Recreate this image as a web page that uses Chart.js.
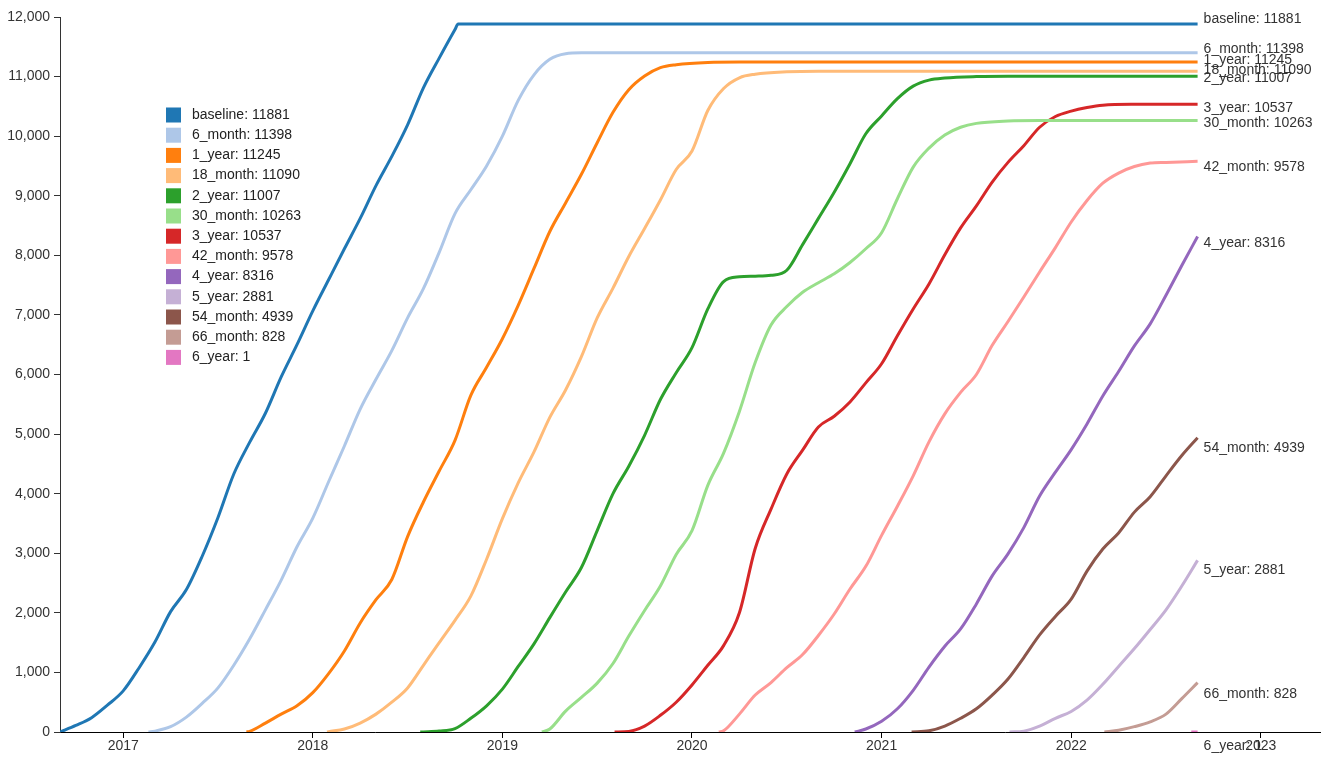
<!DOCTYPE html>
<html>
<head>
<meta charset="utf-8">
<script src="https://cdn.jsdelivr.net/npm/chart.js@4.4.1/dist/chart.umd.min.js"></script>
<style>
  html, body { margin: 0; padding: 0; background: #fff; }
  #wrap { width: 1324px; height: 759px; }
</style>
</head>
<body>
<div id="wrap"><canvas id="c" width="1324" height="759"></canvas></div>
<script>
// ---- data (x = months since Sep 2016, y = cumulative count) ----
const seriesNames = ['baseline','6_month','1_year','18_month','2_year','30_month','3_year','42_month','4_year','5_year','54_month','66_month','6_year'];
const finalCounts = [11881, 11398, 11245, 11090, 11007, 10263, 10537, 9578, 8316, 2881, 4939, 828, 1];
const yearTicks = [2017, 2018, 2019, 2020, 2021, 2022, 2023];
const yTicks = [0,1000,2000,3000,4000,5000,6000,7000,8000,9000,10000,11000,12000];

const baseline = [[0,0],[1,110],[2,240],[3,450],[4,690],[5,1075],[6,1505],[7,2020],[8,2390],[9,2950],[10,3600],[11,4330],[12,4860],[13,5350],[14,5960],[15,6500],[16,7067],[17,7590],[18,8110],[19,8620],[20,9170],[21,9660],[22,10190],[23,10810],[24,11310],[25,11790],[25.2,11881],[72,11881]];
const month6 = [[5.6,0],[6,15],[7,90],[8,250],[9,480],[10,740],[11,1120],[12,1560],[13,2050],[14,2550],[15,3110],[16,3590],[17,4200],[18,4800],[19,5420],[20,5920],[21,6400],[22,6950],[23,7440],[24,8050],[25,8700],[26,9100],[27,9500],[28,10000],[29,10600],[30,11030],[31,11290],[32,11385],[33,11398],[72,11398]];
const year1 = [[11.8,0],[12,10],[13,150],[14,300],[15,440],[16,660],[17,980],[18,1360],[19,1830],[20,2220],[21,2560],[22,3280],[23,3860],[24,4380],[25,4895],[26,5650],[27,6120],[28,6600],[29,7160],[30,7780],[31,8400],[32,8880],[33,9360],[34,9890],[35,10400],[36,10780],[37,11010],[38,11150],[39,11200],[41,11238],[43,11245],[72,11245]];
const month18 = [[16.9,0],[17,5],[18,50],[19,150],[20,300],[21,500],[22,740],[23,1120],[24,1500],[25,1874],[26,2280],[27,2900],[28,3580],[29,4180],[30,4700],[31,5280],[32,5740],[33,6300],[34,6950],[35,7450],[36,7980],[37,8450],[38,8930],[39,9440],[40,9750],[41,10430],[42,10800],[43,10980],[44,11040],[46,11080],[48,11090],[72,11090]];
const year2 = [[22.8,0],[23,2],[24,15],[25,57],[26,230],[27,440],[28,720],[29,1100],[30,1480],[31,1920],[32,2350],[33,2760],[34,3380],[35,4000],[36,4460],[37,4980],[38,5580],[39,6030],[40,6450],[41,7100],[42,7560],[43,7640],[44,7650],[45,7665],[46,7750],[47,8180],[48,8620],[49,9060],[50,9538],[51,10040],[52,10340],[53,10630],[54,10840],[55,10940],[56,10975],[58,11000],[60,11007],[72,11007]];
const month30 = [[30.5,0],[31,50],[32,350],[33,580],[34,820],[35,1150],[36,1610],[37,2040],[38,2450],[39,2980],[40,3380],[41,4140],[42,4680],[43,5380],[44,6200],[45,6830],[46,7140],[47,7380],[48,7540],[49,7690],[50,7880],[51,8110],[52,8380],[53,8950],[54,9480],[55,9800],[56,10020],[57,10150],[58,10215],[60,10255],[62,10263],[72,10263]];
const year3 = [[35.1,0],[36,10],[37,100],[38,280],[39,500],[40,790],[41,1120],[42,1450],[43,2000],[44,3080],[45,3740],[46,4330],[47,4730],[48,5120],[49,5300],[50,5540],[51,5860],[52,6180],[53,6650],[54,7100],[55,7520],[56,8010],[57,8460],[58,8830],[59,9230],[60,9560],[61,9840],[62,10150],[63,10330],[64,10420],[65,10480],[66,10520],[68,10535],[72,10537]];
const month42 = [[41.7,0],[42,20],[43,300],[44,620],[45,830],[46,1080],[47,1300],[48,1620],[49,1980],[50,2400],[51,2780],[52,3300],[53,3790],[54,4300],[55,4870],[56,5340],[57,5700],[58,6000],[59,6490],[60,6890],[61,7300],[62,7720],[63,8130],[64,8560],[65,8920],[66,9210],[67,9380],[68,9490],[69,9548],[70,9560],[72,9578]];
const year4 = [[50.3,0],[51,50],[52,180],[53,390],[54,700],[55,1090],[56,1440],[57,1730],[58,2150],[59,2620],[60,2990],[61,3430],[62,3960],[63,4360],[64,4740],[65,5170],[66,5640],[67,6050],[68,6480],[69,6850],[70,7330],[71,7830],[72,8316]];
const year5 = [[60.1,0],[61,15],[62,100],[63,230],[64,345],[65,535],[66,800],[67,1100],[68,1400],[69,1720],[70,2050],[71,2450],[72,2881]];
const month54 = [[53.9,0],[55,20],[56,100],[57,230],[58,390],[59,620],[60,890],[61,1250],[62,1630],[63,1940],[64,2230],[65,2700],[66,3070],[67,3340],[68,3690],[69,3950],[70,4300],[71,4640],[72,4939]];
const month66 = [[66.1,0],[67,30],[68,90],[69,170],[70,300],[71,560],[72,828]];
const year6 = [[71.6,0],[72,1]];

const seriesData = [baseline, month6, year1, month18, year2, month30, year3, month42, year4, year5, month54, month66, year6];

// ---- styles ----
const colors = ['#1f77b4','#aec7e8','#ff7f0e','#ffbb78','#2ca02c','#98df8a','#d62728','#ff9896','#9467bd','#c5b0d5','#8c564b','#c49c94','#e377c2'];
const labelNudge = [-5, -3.5, -2, -1, 2, 2.4, 4, 5.7, 7, 10, 10.5, 11, 14];
const FONT = '"Liberation Sans", Arial, sans-serif';
const startYear = 2016 + 8 / 12;
const toYear = m => startYear + m / 12;
const xMin = startYear;
const xMax = startYear + 1260 / 189.6;

const datasets = seriesData.map((pts, i) => ({
  label: seriesNames[i],
  data: pts.map(p => ({ x: toYear(p[0]), y: p[1] })),
  borderColor: colors[i],
  backgroundColor: colors[i],
  borderWidth: 3,
  pointRadius: 0,
  fill: false,
  cubicInterpolationMode: 'monotone'
}));

const endLabels = {
  id: 'endLabels',
  afterDatasetsDraw(chart) {
    const ctx = chart.ctx;
    const xs = chart.scales.x, ys = chart.scales.y;
    ctx.save();
    ctx.font = '14px ' + FONT;
    ctx.fillStyle = '#333';
    ctx.textAlign = 'left';
    ctx.textBaseline = 'middle';
    seriesData.forEach((pts, i) => {
      const last = pts[pts.length - 1];
      const x = xs.getPixelForValue(toYear(last[0])) + 6;
      const y = ys.getPixelForValue(finalCounts[i]) + labelNudge[i];
      ctx.fillText(seriesNames[i] + ': ' + finalCounts[i], x, y);
    });
    ctx.restore();
  }
};

const boxLegend = {
  id: 'boxLegend',
  afterDraw(chart) {
    const ctx = chart.ctx;
    ctx.save();
    ctx.font = '14px ' + FONT;
    ctx.textAlign = 'left';
    ctx.textBaseline = 'middle';
    seriesNames.forEach((n, i) => {
      const cy = 115 + i * 20.2;
      ctx.fillStyle = colors[i];
      ctx.fillRect(166, cy - 7.5, 15, 15);
      ctx.fillStyle = '#222';
      ctx.fillText(n + ': ' + finalCounts[i], 192, cy);
    });
    ctx.restore();
  }
};

new Chart(document.getElementById('c'), {
  type: 'line',
  data: { datasets },
  options: {
    responsive: false,
    animation: false,
    events: [],
    layout: { padding: { top: 17, right: 4, left: 0, bottom: 0 } },
    plugins: { legend: { display: false }, tooltip: { enabled: false } },
    scales: {
      x: {
        type: 'linear',
        min: xMin,
        max: xMax,
        afterBuildTicks: s => { s.ticks = yearTicks.map(v => ({ value: v })); },
        afterFit: s => { s.height = 27; },
        grid: { display: true, drawOnChartArea: false, drawTicks: true, tickLength: 6, color: '#000' },
        border: { display: true, color: '#000', width: 1 },
        ticks: { callback: v => String(v), font: { size: 14, family: FONT }, color: '#333', padding: 0, maxRotation: 0, autoSkip: false }
      },
      y: {
        min: 0,
        max: 12000,
        afterBuildTicks: s => { s.ticks = yTicks.map(v => ({ value: v })); },
        afterFit: s => { s.width = 60; },
        grid: { display: true, drawOnChartArea: false, drawTicks: true, tickLength: 6, color: '#333' },
        border: { display: true, color: '#333', width: 1 },
        ticks: { callback: v => v.toLocaleString('en-US'), font: { size: 14, family: FONT }, color: '#333', padding: 4, autoSkip: false }
      }
    }
  },
  plugins: [endLabels, boxLegend]
});
</script>
</body>
</html>
